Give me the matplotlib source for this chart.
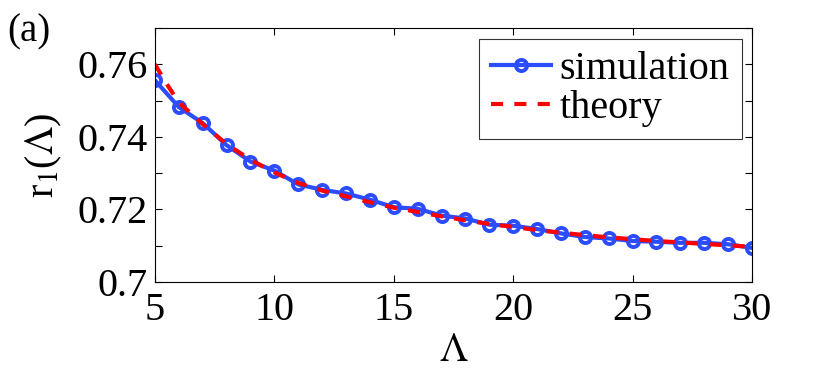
import matplotlib
matplotlib.use("Agg")
import matplotlib.pyplot as plt

# values
lam_sim = [5, 6, 7, 8, 9, 10, 11, 12, 13, 14, 15, 16, 17, 18,
           19, 20, 21, 22, 23, 24, 25, 26, 27, 28, 29, 30]
r1_sim = [0.7556, 0.7482, 0.7438, 0.7377, 0.7332, 0.7307, 0.7269, 0.7254,
          0.7244, 0.7227, 0.7206, 0.7202, 0.7183, 0.7175, 0.7158, 0.7155,
          0.7146, 0.7134, 0.7124, 0.7120, 0.7113, 0.7111, 0.7108, 0.7108,
          0.7104, 0.7094]

lam_th = [5, 5.5, 6, 7, 8, 9, 10, 11, 12, 13, 14, 15, 16, 17, 18,
          19, 20, 21, 22, 23, 24, 25, 26, 27, 28, 29, 30]
r1_th = [0.7600, 0.7545, 0.7495, 0.7435, 0.7380, 0.7337, 0.7302, 0.7273,
         0.7252, 0.7236, 0.7220, 0.7205, 0.7193, 0.7181, 0.7170, 0.7160,
         0.7152, 0.7143, 0.7136, 0.7129, 0.7123, 0.7118, 0.7113, 0.7109,
         0.7105, 0.7101, 0.7097]

xticks = [5, 10, 15, 20, 25, 30]
yticks = [0.70, 0.71, 0.72, 0.73, 0.74, 0.75, 0.76, 0.77]
ytick_labels = ["0.7", "", "0.72", "", "0.74", "", "0.76", ""]

plt.rcParams['font.family'] = ['Liberation Serif', 'DejaVu Serif']
plt.rcParams['mathtext.fontset'] = 'stix'

fig = plt.figure(figsize=(8.3, 3.74), dpi=100)
ax = fig.add_axes([0.1867, 0.246, 0.7193, 0.679])

ax.plot(lam_sim, r1_sim, color='#2b4cff', linewidth=3.0, marker='o',
        markersize=8, markerfacecolor='none', markeredgewidth=2.8,
        label='simulation')
ax.plot(lam_th, r1_th, color='#ff0000', linewidth=3.0,
        linestyle=(0, (2.9, 2.7)), label='theory')

ax.set_xlim(5, 30)
ax.set_ylim(0.70, 0.77)
ax.set_xticks(xticks)
ax.set_xticklabels([str(t) for t in xticks])
ax.set_yticks(yticks)
ax.set_yticklabels(ytick_labels)
ax.tick_params(direction='in', top=True, right=True, length=5, width=0.8,
               labelsize=29)
ax.tick_params(axis='x', pad=7)
ax.tick_params(axis='y', pad=5)
for s in ax.spines.values():
    s.set_linewidth(0.8)

ax.set_xlabel(r'$\Lambda$', fontsize=29, labelpad=3)
ax.set_ylabel(r'r$_1$($\Lambda$)', fontsize=29, labelpad=10)

leg = ax.legend(loc='upper right', fontsize=29, frameon=True, fancybox=False,
                edgecolor='black', handlelength=1.5, handletextpad=0.2,
                borderpad=0.3, labelspacing=0.05, borderaxespad=0.26)
leg.get_frame().set_linewidth(0.8)

fig.text(0.009, 0.965, '(a)', fontsize=28, va='top', ha='left')

fig.savefig('out.png', dpi=100)
